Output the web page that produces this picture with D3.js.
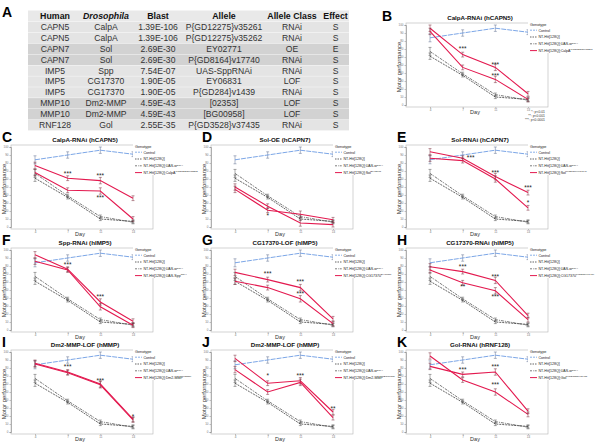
<!DOCTYPE html>
<html><head><meta charset="utf-8">
<script src="https://cdn.jsdelivr.net/npm/d3@7"></script>
<style>body{margin:0;background:#fff}svg{font-family:Arial,"Liberation Sans",sans-serif;display:block}</style>
</head><body><svg id="c" width="600" height="442"></svg>
<script>
// ---- Table A data ----
const tableHeader = ["Human","Drosophila","Blast","Allele","Allele Class","Effect"];
const humanGenes = ["CAPN5","CAPN5","CAPN7","CAPN7","IMP5","IMP5","IMP5","MMP10","MMP10","RNF128"];
const flyGenes = ["CalpA","CalpA","Sol","Sol","Spp","CG17370","CG17370","Dm2-MMP","Dm2-MMP","Gol"];
const blastValues = ["1.39E-106","1.39E-106","2.69E-30","2.69E-30","7.54E-07","1.90E-05","1.90E-05","4.59E-43","4.59E-43","2.55E-35"];
const alleles = ["P{GD12275}v35261","P{GD12275}v35262","EY02771","P{GD8164}v17740","UAS-SppRNAi","EY06831","P{GD284}v1439","[02353]","[BG00958]","P{GD3528}v37435"];
const alleleClasses = ["RNAi","RNAi","OE","RNAi","RNAi","LOF","RNAi","LOF","LOF","RNAi"];
const effects = ["S","S","E","S","S","S","S","S","S","S"];

// ---- Line chart data (B-K) ----
const days = ["4","7","11","14"];
const yTicks = [0,10,20,30,40,50,60,70,80,90,100];
const genotypeLabels = ["Control","NT-Htt[128Q]","NT-Htt[128Q];UAS-w"];
const controlValues = [84,90,96,91];
const controlErr = [5,4,4,3];
const httValues = [61,37,10,7];
const httErr = [4,2,2,2];
const httWValues = [67,39,13,6];
const httWErr = [5,2,2,2];
const redErr = [4,3,4,3];
const panelIds = ["B","C","D","E","F","G","H","I","J","K"];
const panelTitles = ["CalpA-RNAi (hCAPN5)","CalpA-RNAi (hCAPN5)","Sol-OE (hCAPN7)","Sol-RNAi (hCAPN7)","Spp-RNAi (hIMP5)","CG17370-LOF (hIMP5)","CG17370-RNAi (hIMP5)","Dm2-MMP-LOF (hMMP)","Dm2-MMP-LOF (hMMP)","Gol-RNAi (hRNF128)"];
const redGenes = ["CalpA","CalpA","Sol","Sol","UAS-Spp","CG17370","CG17370","Dm2-MMP","Dm2-MMP","Gol"];
const redSups = ["P{GD12275}v35261","P{GD12275}v35262","EY02771","P{GD8164}v17740","RNAi","EY06831","P{GD284}v1439","[02353]","[BG00958]","P{GD3528}v37435"];
const redA = [[96,63,47,14],[77,61,58,36],[50,26,5,3],[94,86,63,43],[94,76,35,11],[72,63,53,14],[79,73,62,18],[86,75,60,16],[92,61,64,25],[95,65,50,22]];
const redB = [[92,47,32,7],[68,46,45,10],[47,21,16,9],[86,83,60,24],[86,75,29,6],[61,53,39,8],[75,59,49,13],[85,74,59,15],[78,50,62,18],[82,72,75,26]];
const starMarks = [
  [[1,71,"***",0],[2,51,"***",0],[2,37,"***",0]],
  [[1,67,"***",0],[2,65,"***",0],[2,37,"***",0]],
  [[1,14,"*",0]],
  [[1,87,"***",8],[2,68,"***",0],[3,50,"***",0],[3,31,"*",0]],
  [[1,82,"***",0],[2,42,"***",0]],
  [[1,71,"***",0],[2,61,"***",0],[2,46,"***",0]],
  [[1,79,"***",0],[1,55,"**",0],[2,67,"***",0],[2,42,"***",0]],
  [[1,82,"***",0],[2,65,"***",0],[3,20,"*",0]],
  [[1,71,"*",0],[2,71,"***",0],[3,29,"**",0]],
  [[1,78,"***",0],[2,82,"***",0],[2,59,"***",0]]
];
const pValueNotes = ["*: p<0.01","**: p<0.001","***: p<0.0001"];

const svg = d3.select("#c");
const BLUE = "#5a8fe0", RED = "#e3194f";

// ---- Table A ----
const colEdges = [28,82,130,186,262,322,349];
const rowH = 10.9, tableTop = 10.5;
const rowFills = ["#e4e4e4","#e4e4e4","#d2d2d2","#d2d2d2","#e4e4e4","#e4e4e4","#e4e4e4","#d2d2d2","#d2d2d2","#e4e4e4"];
const tbl = svg.append("g");
tbl.append("rect").attr("x",colEdges[0]).attr("y",tableTop).attr("width",colEdges[6]-colEdges[0]).attr("height",rowH).attr("fill","#e9e9e9");
const cols = [humanGenes, flyGenes, blastValues, alleles, alleleClasses, effects];
humanGenes.forEach((_, r) => {
  const yy = tableTop + rowH*(r+1);
  tbl.append("rect").attr("x",colEdges[0]).attr("y",yy+0.4).attr("width",colEdges[6]-colEdges[0]).attr("height",rowH-0.4).attr("fill",rowFills[r]);
});
tableHeader.forEach((h,c) => {
  tbl.append("text").attr("x",(colEdges[c]+colEdges[c+1])/2).attr("y",tableTop+rowH/2+3.1)
    .attr("text-anchor","middle").attr("font-size",8.8).attr("font-weight","bold")
    .attr("font-style", c===1?"italic":"normal").attr("fill","#111").text(h);
});
cols.forEach((arr,c) => arr.forEach((v,r) => {
  tbl.append("text").attr("x",(colEdges[c]+colEdges[c+1])/2).attr("y",tableTop+rowH*(r+1)+rowH/2+3.1)
    .attr("text-anchor","middle").attr("font-size",8.6).attr("fill","#333").text(v);
}));
svg.append("text").attr("x",2).attr("y",17).attr("font-size",14).attr("font-weight","bold").text("A");

// ---- Panels ----
const colOrigins = [0,200,395];
const rowTops = [147,250,352];
function drawPanel(i){
  let ox, top, lx;
  if(i===0){ ox = 395; top = 25; lx = 382; }
  else { ox = colOrigins[(i-1)%3]; top = rowTops[Math.floor((i-1)/3)]; lx = ox+2; }
  const g = svg.append("g");
  const x = d3.scalePoint().domain(days).range([ox+35, ox+133]);
  const y = d3.scaleLinear().domain([0,100]).range([top+80, top]);
  g.append("rect").attr("x",ox+11).attr("y",top-2).attr("width",142).attr("height",84)
    .attr("fill","none").attr("stroke","#b5b5b5").attr("stroke-width",0.6);
  const ya = g.append("g").attr("transform",`translate(${ox+11},0)`)
    .call(d3.axisLeft(y).tickValues(yTicks).tickSize(1.5).tickPadding(1));
  ya.select(".domain").attr("stroke","#888").attr("stroke-width",0.6);
  ya.selectAll("line").attr("stroke","#888").attr("stroke-width",0.5);
  ya.selectAll("text").attr("font-size",3).attr("fill","#777");
  const xa = g.append("g").attr("transform",`translate(0,${top+82})`)
    .call(d3.axisBottom(x).tickSize(1.5).tickPadding(0.5));
  xa.select(".domain").remove();
  xa.selectAll("line").attr("stroke","#888").attr("stroke-width",0.5);
  xa.selectAll("text").attr("font-size",3).attr("fill","#777");
  g.append("text").attr("x",ox+80).attr("y",top+89).attr("text-anchor","middle").attr("font-size",5.5).attr("fill","#333").text("Day");
  g.append("text").attr("transform",`translate(${ox+6},${top+42}) rotate(-90)`).attr("text-anchor","middle")
    .attr("font-size",6).attr("fill","#333").text("Motor  performance");
  g.append("text").attr("x",ox+85).attr("y",top-5).attr("text-anchor","middle").attr("font-size",6.2)
    .attr("font-weight","bold").attr("fill","#111").text(panelTitles[i]);
  g.append("text").attr("x",lx).attr("y",i===0?21:top-5).attr("font-size",14).attr("font-weight","bold").attr("fill","#000").text(panelIds[i]);

  const line = d3.line().x((d,j)=>x(days[j])).y(d=>y(d));
  const series = [
    {v:httWValues, e:httWErr, c:"#444", dash:"3,1,1,1", w:0.7},
    {v:httValues, e:httErr, c:"#222", dash:"2,1", w:0.7},
    {v:controlValues, e:controlErr, c:BLUE, dash:"5,1", w:0.8},
    {v:redA[i], e:redErr, c:RED, dash:null, w:1.1},
    {v:redB[i], e:redErr, c:RED, dash:null, w:1.1}
  ];
  series.forEach(s => {
    s.v.forEach((d,j) => {
      const cx = x(days[j]);
      const eb = g.append("g").attr("stroke", s.c===RED ? "#7a2a3a" : (s.c===BLUE?"#5f6f90":"#555")).attr("stroke-width",0.5);
      eb.append("line").attr("x1",cx).attr("x2",cx).attr("y1",y(d-s.e[j])).attr("y2",y(d+s.e[j]));
      eb.append("line").attr("x1",cx-1.5).attr("x2",cx+1.5).attr("y1",y(d-s.e[j])).attr("y2",y(d-s.e[j]));
      eb.append("line").attr("x1",cx-1.5).attr("x2",cx+1.5).attr("y1",y(d+s.e[j])).attr("y2",y(d+s.e[j]));
    });
    g.append("path").datum(s.v).attr("d",line).attr("fill","none").attr("stroke",s.c)
      .attr("stroke-width",s.w).attr("stroke-dasharray",s.dash);
  });
  starMarks[i].forEach(m => {
    g.append("text").attr("x",x(days[m[0]])+m[3]).attr("y",y(m[1])+2.5).attr("text-anchor","middle")
      .attr("font-size",6.5).attr("fill","#222").text(m[2]);
  });
  const L = g.append("g");
  L.append("rect").attr("x",ox+133).attr("y",top-6).attr("width",62).attr("height",34).attr("fill","#fff");
  L.append("text").attr("x",ox+135).attr("y",top+0.5).attr("font-size",3.8).attr("fill","#222").text("Genotype");
  const legItems = [
    {c:BLUE, dash:"2,1"},
    {c:"#222", dash:"1.5,1"},
    {c:"#444", dash:"2,1,0.7,1"},
    {c:RED, dash:null}
  ];
  legItems.forEach((it,k) => {
    const yy = top + 6.5 + k*6.8;
    L.append("line").attr("x1",ox+135).attr("x2",ox+142).attr("y1",yy-1.3).attr("y2",yy-1.3)
      .attr("stroke",it.c).attr("stroke-width",k===3?1:0.7).attr("stroke-dasharray",it.dash);
    const t = L.append("text").attr("x",ox+143.5).attr("y",yy).attr("font-size",3.6).attr("fill","#222");
    if(k<2) t.text(genotypeLabels[k]);
    else if(k===2){ t.append("tspan").text(genotypeLabels[2]); t.append("tspan").attr("dy",-1.5).attr("font-size",2.5).text("RNAi"); }
    else { t.append("tspan").text("NT-Htt[128Q];"+redGenes[i]); t.append("tspan").attr("dy",-1.5).attr("font-size",2.5).text(redSups[i]); }
  });
  if(i===0){
    pValueNotes.forEach((p,k) => {
      g.append("text").attr("x",ox+150).attr("y",top+88+k*3.8).attr("text-anchor","end")
        .attr("font-size",3.4).attr("fill","#333").text(p);
    });
  }
}
panelIds.forEach((_,i)=>drawPanel(i));
</script></body></html>
